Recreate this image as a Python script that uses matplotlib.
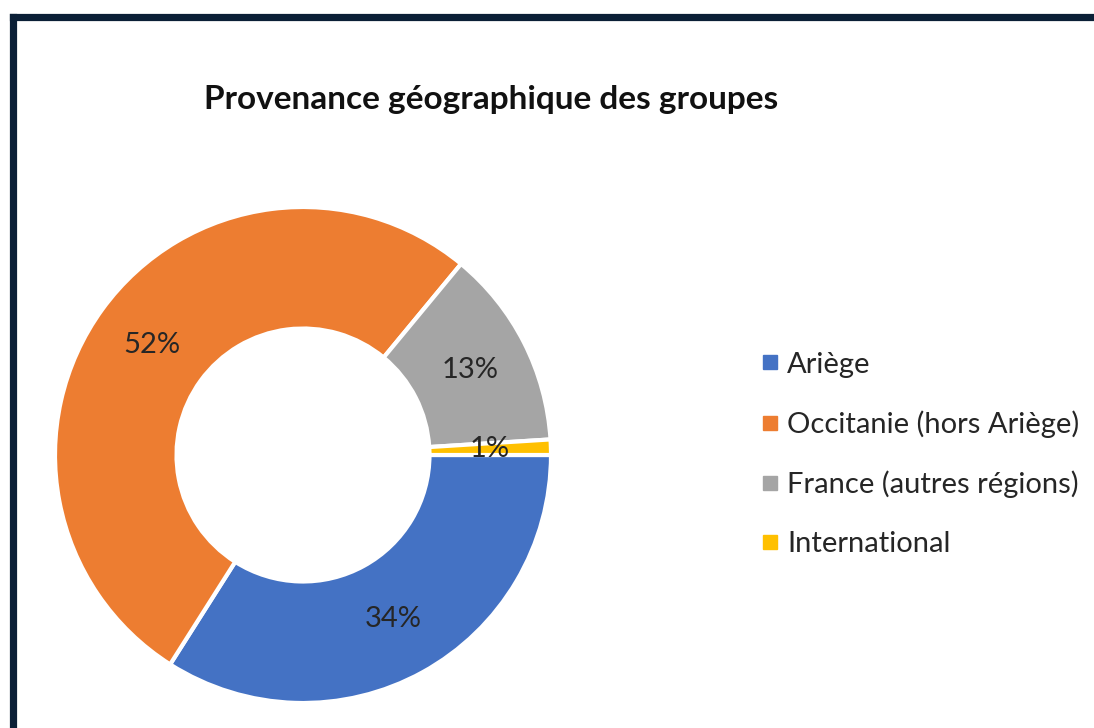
import matplotlib.pyplot as plt
from matplotlib.lines import Line2D

labels = ["Ariège", "Occitanie (hors Ariège)", "France (autres régions)", "International"]
values = [34, 52, 13, 1]
colors = ["#4472C4", "#ED7D31", "#A5A5A5", "#FFC000"]
title = "Provenance géographique des groupes"

plt.rcParams["font.family"] = ["Lato", "DejaVu Sans"]

W, H = 1094, 728
fig = plt.figure(figsize=(W / 100, H / 100), dpi=100)

#donut axes: centre (303,455) px, outer radius 248 px
cx, cy, r = 303, 455, 248
ax = fig.add_axes([(cx - r) / W, 1 - (cy + r) / H, 2 * r / W, 2 * r / H])
wedges, texts, autotexts = ax.pie(
    values, colors=colors, startangle=0, counterclock=False,
    radius=1, autopct="%d%%", pctdistance=0.755,
    wedgeprops=dict(width=0.49, edgecolor="white", linewidth=3),
    textprops=dict(fontsize=21, color="#262626"))
ax.set_xlim(-1, 1)
ax.set_ylim(-1, 1)
ax.set_aspect("equal")

fig.text(491 / W, 1 - 100 / H, title, ha="center", va="center",
         fontsize=24, fontweight="bold", color="#111111")

#legend with square markers
handles = [Line2D([], [], marker="s", linestyle="none", markersize=10.5,
                  markerfacecolor=c, markeredgecolor=c) for c in colors]
fig.legend(handles, labels, loc="upper left",
           bbox_to_anchor=(748 / W, 1 - 340 / H), frameon=False,
           borderaxespad=0, fontsize=21, labelspacing=1.12,
           handletextpad=0.25, handlelength=0.7, labelcolor="#262626")

#dark frame along top and left edges
navy = "#0b1f36"
fig.add_artist(Line2D([12.5 / W, 1.0], [1 - 16.5 / H, 1 - 16.5 / H],
                      transform=fig.transFigure, color=navy, linewidth=5.2,
                      solid_capstyle="projecting"))
fig.add_artist(Line2D([12.5 / W, 12.5 / W], [0, 1 - 16.5 / H],
                      transform=fig.transFigure, color=navy, linewidth=5.2,
                      solid_capstyle="projecting"))

fig.savefig("out.png", dpi=100)
